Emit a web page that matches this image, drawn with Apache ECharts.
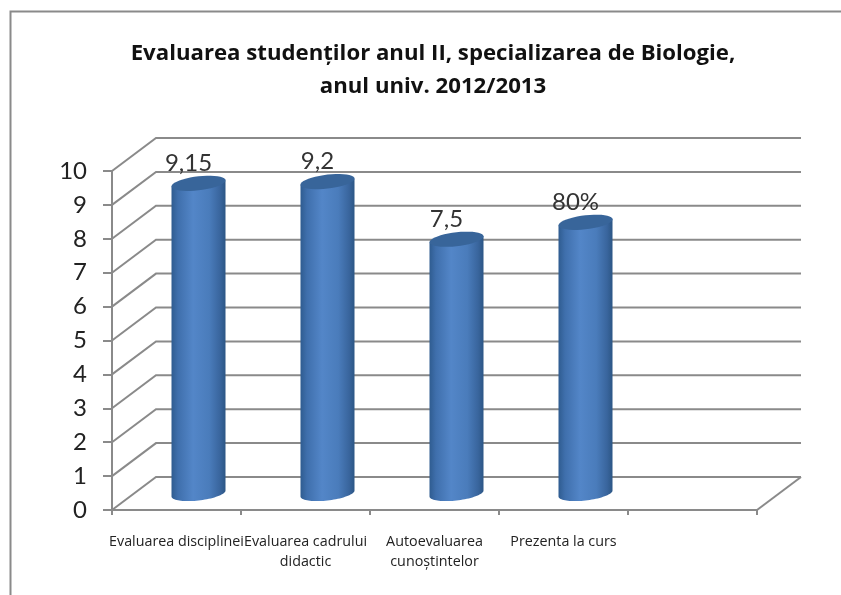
<!DOCTYPE html>
<html>
<head>
<meta charset="utf-8">
<style>
  html, body { margin: 0; padding: 0; background: #fff; }
  #chart { width: 841px; height: 595px; }
</style>
<script src="https://cdn.jsdelivr.net/npm/echarts@6/dist/echarts.min.js"></script>
</head>
<body>
<div id="chart"></div>
<script>
const categories = ['Evaluarea disciplinei', 'Evaluarea cadrului\ndidactic', 'Autoevaluarea\ncunoștintelor', 'Prezenta la curs', '']
const values = [9.15, 9.2, 7.5, 8]
const valueLabels = ['9,15', '9,2', '7,5', '80%']
const gridValues = [0, 1, 2, 3, 4, 5, 6, 7, 8, 9, 10]

// oblique depth of the fake 3d box
const depthX = 44
const depthY = -33
const lineColor = '#8a8a8a'
const font = 'Lato, "Open Sans", sans-serif'
const wideFont = '"Open Sans", sans-serif'

function ellipsePoints(cx, cy, from, to) {
  const pts = []
  for (let i = 0; i <= 40; i++) {
    const t = from + (to - from) * i / 40
    pts.push([cx + 27 * Math.cos(t), cy - 3 * Math.cos(t) + 7 * Math.sin(t)])
  }
  return pts
}

function renderWall(params, api) {
  const v = api.value(0)
  const front = api.coord([0, v])
  const bandW = api.size([1, 0])[0]
  const left = front[0] - bandW / 2
  const right = left + bandW * categories.length
  const children = [{
    type: 'polyline',
    shape: { points: [[left, front[1]], [left + depthX, front[1] + depthY], [right + depthX, front[1] + depthY]] },
    style: { stroke: lineColor, lineWidth: 2, fill: null }
  }]
  if (v === 0) {
    children.push({
      type: 'line',
      shape: { x1: right, y1: front[1], x2: right + depthX, y2: front[1] + depthY },
      style: { stroke: lineColor, lineWidth: 2 }
    })
  }
  return { type: 'group', children }
}

function renderCylinder(params, api) {
  const i = api.value(0)
  const top = api.coord([i, api.value(1)])
  const base = api.coord([i, 0])
  const cx = top[0] + depthX / 2
  const topY = top[1] + depthY / 2
  const baseY = base[1] + depthY / 2
  const bodyPts = [[cx - 27, topY + 3], [cx + 27, topY - 3]].concat(ellipsePoints(cx, baseY, 0, Math.PI))
  return {
    type: 'group',
    children: [{
      type: 'polygon',
      shape: { points: bodyPts },
      style: {
        fill: new echarts.graphic.LinearGradient(0, 0, 1, 0, [
          { offset: 0, color: '#2f5c90' },
          { offset: 0.12, color: '#3f6fac' },
          { offset: 0.4, color: '#5386c8' },
          { offset: 0.7, color: '#4a7cbb' },
          { offset: 0.9, color: '#39659d' },
          { offset: 1, color: '#2c5685' }
        ])
      }
    }, {
      type: 'polygon',
      shape: { points: ellipsePoints(cx, topY, 0, Math.PI * 2) },
      style: { fill: '#38659a' }
    }, {
      type: 'text',
      style: {
        x: cx - 10,
        y: topY - 20,
        text: valueLabels[i],
        fill: '#333',
        font: '24px ' + font,
        align: 'center',
        verticalAlign: 'middle'
      }
    }]
  }
}

const chart = echarts.init(document.getElementById('chart'))
chart.setOption({
  backgroundColor: '#fff',
  animation: false,
  title: {
    text: 'Evaluarea studenților anul II, specializarea de Biologie,\nanul univ. 2012/2013',
    left: 428,
    top: 32,
    textAlign: 'center',
    textStyle: { fontFamily: wideFont, fontSize: 22.2, fontWeight: 'bold', color: '#111', lineHeight: 33 }
  },
  graphic: [{
    type: 'polyline',
    shape: { points: [[10.5, 595], [10.5, 11.5], [841, 11.5]] },
    style: { stroke: '#8a8a8a', lineWidth: 2, fill: null }
  }],
  grid: { left: 112, right: 84, top: 171, bottom: 85 },
  xAxis: {
    type: 'category',
    data: categories,
    axisLine: { lineStyle: { color: lineColor, width: 2 } },
    axisTick: { show: true, length: 5, alignWithLabel: false, lineStyle: { color: lineColor, width: 2 } },
    axisLabel: { interval: 0, margin: 22, color: '#222', fontFamily: wideFont, fontSize: 14.3, lineHeight: 20, hideOverlap: false }
  },
  yAxis: {
    type: 'value',
    min: 0,
    max: 10,
    interval: 1,
    axisLine: { show: true, lineStyle: { color: lineColor, width: 2 } },
    axisTick: { show: true, length: 9, lineStyle: { color: lineColor, width: 2 } },
    axisLabel: { margin: 25, color: '#222', fontFamily: font, fontSize: 24 },
    splitLine: { show: false }
  },
  series: [{
    type: 'custom',
    renderItem: renderWall,
    data: gridValues.map(v => [v]),
    encode: { y: 0 },
    silent: true,
    z: 1
  }, {
    type: 'custom',
    renderItem: renderCylinder,
    data: values.map((v, i) => [i, v]),
    encode: { x: 0, y: 1 },
    z: 2
  }]
})
</script>
</body>
</html>
